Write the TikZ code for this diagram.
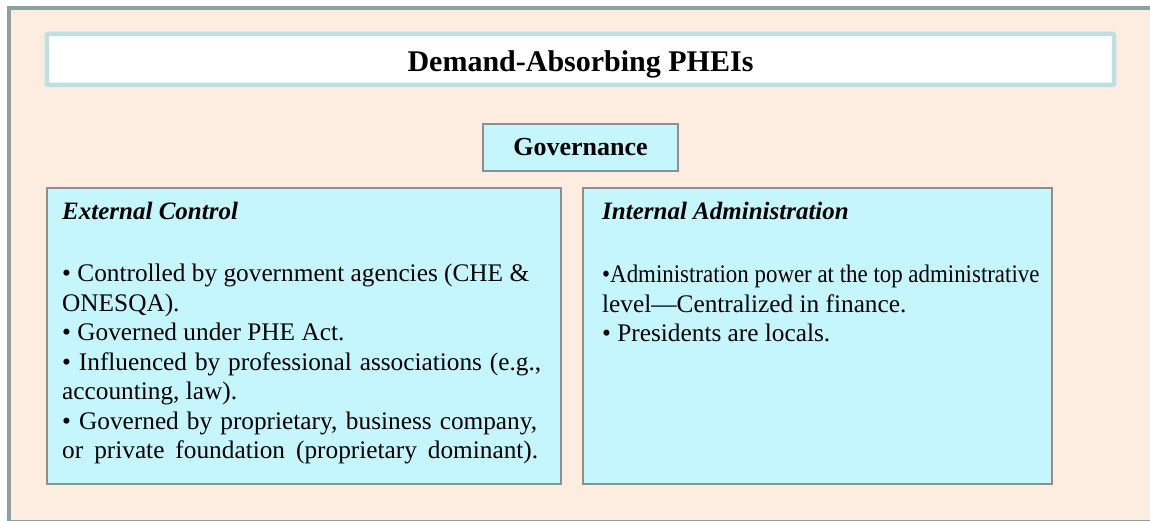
\documentclass[tikz,border=0pt]{standalone}
\usepackage{fontspec}
\setmainfont{Liberation Serif}
\definecolor{framec}{HTML}{8AA2A2}
\definecolor{bgc}{HTML}{FDEDE1}
\definecolor{boxc}{HTML}{C5F5FD}
\definecolor{boxline}{HTML}{8E8E8E}
\definecolor{titleline}{HTML}{BCE0E4}
\tikzset{
  panel/.style={draw=boxline, line width=1.5bp, fill=boxc},
  heading/.style={anchor=base west, inner sep=0pt, font=\fontsize{25bp}{29.4bp}\selectfont\bfseries\itshape},
  body/.style={anchor=base west, inner sep=0pt, align=left, font=\fontsize{25.3bp}{29.4bp}\selectfont},
}
\newcommand{\spreadline}[2]{\makebox[#1][s]{#2}}
\begin{document}
\begin{tikzpicture}[x=1bp,y=-1bp]
\useasboundingbox (0,0) rectangle (1150,521);
\fill[white] (0,0) rectangle (1150,521);
\draw[framec, line width=4bp, fill=bgc] (8.5,8.5) rectangle (1170,521.8);
% title
\node[draw=titleline, line width=4.5bp, fill=white, rounded corners=1bp, minimum width=1067bp, minimum height=51bp, inner sep=0pt]
  (title) at (580.5,59.5) {};
\node[anchor=base, inner sep=0pt, font=\fontsize{30bp}{35bp}\selectfont\bfseries] (titletext) at (580.5,71.7) {Demand-Absorbing PHEIs};
% governance
\node[panel, minimum width=195bp, minimum height=47bp, inner sep=0pt] (gov) at (580.5,147.5) {};
\node[anchor=base, inner sep=0pt, font=\fontsize{26bp}{30bp}\selectfont\bfseries] (govtext) at (580.5,155.7) {Governance};
% panels
\node[panel, minimum width=514bp, minimum height=296bp, inner sep=0pt] (ext) at (304,336) {};
\node[panel, minimum width=469bp, minimum height=296bp, inner sep=0pt] (int) at (817.5,336) {};
\node[heading] (exth) at (62,220) {External Control};
\node[heading] (inth) at (602,220) {Internal Administration};
\node[body] (extb) at (62,458.4) {• Controlled by government agencies (CHE \&\\
ONESQA).\\
• Governed under PHE Act.\\
\spreadline{479bp}{• Influenced by professional associations (e.g.,}\\
accounting, law).\\
\spreadline{475bp}{• Governed by proprietary, business company,}\\
\spreadline{476bp}{or private foundation (proprietary dominant).}};
\node[body] (intb) at (602,341.8) {\scalebox{0.905}[1]{•Administration power at the top administrative}\\
level—Centralized in finance.\\
• Presidents are locals.};
\end{tikzpicture}
\end{document}
